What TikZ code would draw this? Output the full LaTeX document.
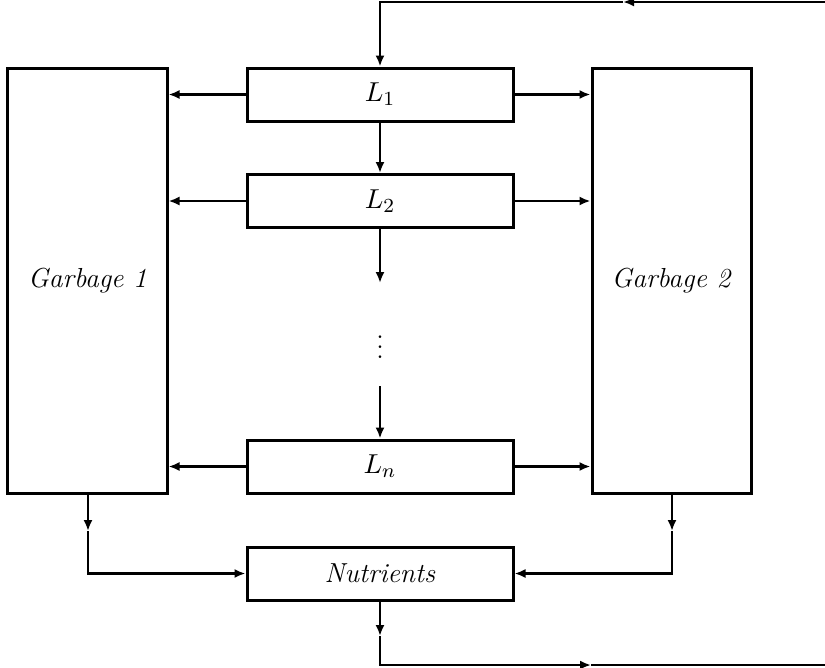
\documentclass[tikz,border=0pt]{standalone}
\usetikzlibrary{arrows.meta}
\begin{document}
\begin{tikzpicture}[x=0.4pt,y=-0.4pt,
  every node/.style={font=\fontsize{11}{13}\selectfont},
  box/.style={draw,line width=1.2pt,inner sep=0pt,minimum width=106.4pt,minimum height=21.2pt},
  gbox/.style={draw,line width=1.2pt,inner sep=0pt,minimum width=63.6pt,minimum height=170pt},
  conn/.style={line width=0.85pt,-{Latex[length=4.4pt,width=3.6pt]}},
  plain/.style={line width=0.85pt}]
\useasboundingbox (0,0) rectangle (825,667);
\node[gbox] (G1) at (87.5,280.5) {\textit{Garbage 1}};
\node[gbox] (G2) at (671.5,280.5) {\textit{Garbage 2}};
\node[box] (L1) at (380,94.5) {$L_1$};
\node[box] (L2) at (380,201) {$L_2$};
\node[box] (Ln) at (380,466.5) {$L_n$};
\node[box] (N) at (380,573.5) {\textit{Nutrients}};
\node (dots) at (380,340) {$\vdots$};
\coordinate (tr) at (826,2);
\coordinate (tm) at (623,2);
\coordinate (tc) at (380,2);
\coordinate (br) at (826,665);
\coordinate (bm) at (591,665);
\coordinate (bc) at (380,665);
\coordinate (nm) at (380,636);
\coordinate (d1) at (380,283);
\coordinate (d2) at (380,386);
\coordinate (g1m) at (88,531);
\coordinate (g2m) at (672,531);
% top loop
\draw[conn] (tr) -- (tm);
\draw[conn] (tm) -- (tc) -- (L1.north);
% vertical chain
\draw[conn] (L1.south) -- (L2.north);
\draw[conn] (L2.south) -- (d1);
\draw[conn] (d2) -- (Ln.north);
% side arrows
\foreach \n in {L1,L2,Ln}{
  \draw[conn] (\n.west) -- (\n.west -| G1.east);
  \draw[conn] (\n.east) -- (\n.east -| G2.west);
}
% garbage to nutrients
\draw[conn] (G1.south -| g1m) -- (g1m);
\draw[conn] (g1m) |- (N.west);
\draw[conn] (G2.south -| g2m) -- (g2m);
\draw[conn] (g2m) |- (N.east);
% nutrients out
\draw[conn] (N.south) -- (nm);
\draw[conn] (nm) -- (bc) -- (bm);
\draw[plain] (bm) -- (br);
\end{tikzpicture}
\end{document}
